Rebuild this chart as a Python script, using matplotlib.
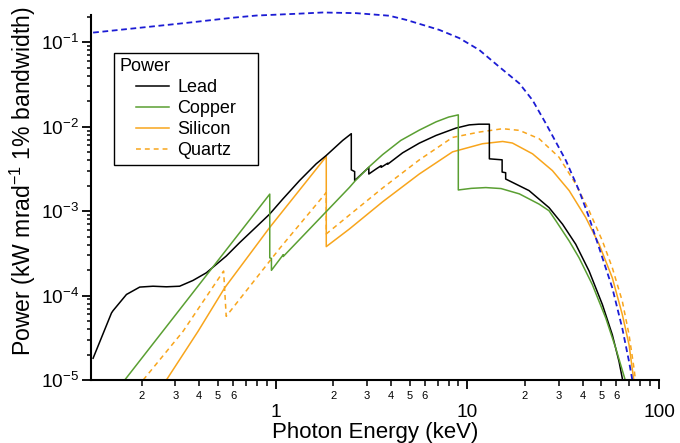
import numpy as np
import matplotlib
matplotlib.use("Agg")
import matplotlib.pyplot as plt
from matplotlib import ticker
from matplotlib.lines import Line2D
from matplotlib.legend_handler import HandlerLine2D

plt.rcParams['font.family'] = ['Liberation Sans', 'DejaVu Sans']
plt.rcParams['mathtext.fontset'] = 'custom'
plt.rcParams['mathtext.rm'] = 'Liberation Sans'
plt.rcParams['mathtext.default'] = 'regular'

# photon energy (keV) and power (kW mrad^-1 1% bw)
source_e = [0.1118, 0.27, 0.356, 0.597, 0.793, 1.334, 1.763, 2.63, 3.92, 4.8, 7.15, 9.08,
            11.55, 14.7, 18.7, 21.9, 25.7, 32.7, 38.3, 43.2, 48.7, 57.1, 64.4, 69.8, 72.6]
source_p = [0.130, 0.160, 0.171, 0.195, 0.207, 0.218, 0.225, 0.221, 0.206, 0.184, 0.140, 0.112,
            0.081, 0.051, 0.0325, 0.0206, 0.0109, 3.97e-3, 1.75e-3, 8.4e-4, 3.69e-4, 1.23e-4,
            4.07e-5, 1.65e-5, 1.0e-5]

lead_e = [0.1118, 0.1394, 0.1421, 0.1669, 0.1957, 0.2296, 0.2696, 0.316, 0.371, 0.4356, 0.5535,
          0.6494, 0.793, 0.931, 1.091, 1.334, 1.629, 1.837, 2.24, 2.484, 2.484, 2.586, 2.586,
          3.066, 3.066, 3.35, 3.554, 3.554, 3.851, 3.851, 4.6, 5.62, 6.87, 8.73, 10.24, 11.5,
          13.04, 13.04, 15.2, 15.2, 15.86, 15.86, 21.0, 26.7, 31.4, 36.8, 43.2, 50.7, 57.1,
          61.9, 64.9]
lead_p = [1.81e-5, 6.21e-5, 6.63e-5, 1.03e-4, 1.26e-4, 1.29e-4, 1.27e-4, 1.29e-4, 1.51e-4, 1.86e-4,
          2.94e-4, 4.23e-4, 6.5e-4, 9.2e-4, 1.39e-3, 2.3e-3, 3.63e-3, 4.55e-3, 6.87e-3, 8.26e-3,
          3.08e-3, 2.94e-3, 2.3e-3, 3.3e-3, 2.75e-3, 3.16e-3, 3.45e-3, 3.3e-3, 3.7e-3, 3.6e-3,
          4.9e-3, 6.38e-3, 7.87e-3, 9.62e-3, 1.05e-2, 1.07e-2, 1.07e-2, 4.16e-3, 4.05e-3, 2.9e-3,
          2.85e-3, 2.4e-3, 1.75e-3, 1.1e-3, 7.0e-4, 4.05e-4, 1.95e-4, 7.8e-5, 3.43e-5, 1.65e-5,
          9.5e-6]

copper_e = [0.1635, 0.933, 0.933, 0.952, 0.952, 1.097, 1.097, 2.43, 2.61, 3.1, 3.62, 4.5, 5.62,
            6.87, 8.0, 8.98, 8.98, 10.5, 12.5, 15.0, 18.7, 23.7, 26.7, 29.0, 34.0, 38.3, 44.9,
            52.8, 59.5, 67.1]
copper_p = [1e-5, 1.59e-3, 2.8e-4, 2.75e-4, 1.99e-4, 3.05e-4, 2.9e-4, 1.91e-3, 2.3e-3, 3.4e-3,
            4.67e-3, 6.87e-3, 9.1e-3, 1.14e-2, 1.3e-2, 1.38e-2, 1.78e-3, 1.86e-3, 1.9e-3, 1.85e-3,
            1.6e-3, 1.21e-3, 1.01e-3, 7.67e-4, 4.43e-4, 2.8e-4, 1.35e-4, 5.4e-5, 2.38e-5, 9.5e-6]

silicon_e = [0.2696, 0.394, 0.5424, 0.931, 1.839, 1.839, 2.43, 3.62, 5.62, 8.38, 12.0, 15.3, 17.2,
             21.9, 27.8, 34.0, 41.5, 48.7, 57.1, 64.4, 69.8, 74.1]
silicon_p = [1e-5, 3.76e-5, 1.23e-4, 6.38e-4, 4.43e-3, 3.8e-4, 6.15e-4, 1.29e-3, 2.75e-3, 5.03e-3,
             6.28e-3, 6.68e-3, 6.4e-3, 4.77e-3, 3.02e-3, 1.75e-3, 8.4e-4, 4.05e-4, 1.62e-4,
             5.94e-5, 2.61e-5, 9.5e-6]

quartz_e = [0.204, 0.329, 0.536, 0.553, 1.049, 1.839, 1.839, 2.43, 3.62, 5.62, 8.38, 11.55, 15.3,
            18.7, 23.7, 30.1, 36.8, 43.2, 50.7, 57.1, 64.4, 69.8, 74.1, 75.6]
quartz_p = [1e-5, 3.76e-5, 1.95e-4, 5.68e-5, 3.6e-4, 1.66e-3, 5.37e-4, 9.0e-4, 1.88e-3, 4.04e-3,
            7.46e-3, 8.63e-3, 9.46e-3, 9.04e-3, 7.2e-3, 4.35e-3, 2.09e-3, 1.01e-3, 4.43e-4,
            2.13e-4, 8.55e-5, 3.43e-5, 1.37e-5, 9.5e-6]

green = '#5a9f32'
orange = '#f8a51c'
blue = '#1c1cd4'
lw = 1.1

fig = plt.figure(figsize=(6.8, 4.43), dpi=100)
ax = fig.add_axes([0.1338, 0.1422, 0.8353, 0.8239])

h_qz, = ax.plot(quartz_e, quartz_p, color=orange, lw=lw, dashes=(3.2, 2.6), label='Quartz')
h_si, = ax.plot(silicon_e, silicon_p, color=orange, lw=lw, label='Silicon')
h_pb, = ax.plot(lead_e, lead_p, color='black', lw=lw, label='Lead')
h_cu, = ax.plot(copper_e, copper_p, color=green, lw=lw, label='Copper')
ax.plot(source_e, source_p, color=blue, lw=1.3, dashes=(3.2, 2.0), clip_on=False)

ax.set_xscale('log')
ax.set_yscale('log')
ax.set_xlim(0.109, 100)
ax.set_ylim(1e-5, 0.21)

ax.xaxis.set_major_locator(ticker.FixedLocator([1, 10, 100]))
ax.xaxis.set_major_formatter(ticker.FuncFormatter(lambda x, pos: '%g' % x))
ax.xaxis.set_minor_locator(ticker.LogLocator(base=10, subs=np.arange(2, 10), numticks=30))

def minor_label(x, pos):
    m = int(round(x / 10 ** np.floor(np.log10(x) + 1e-9)))
    return str(m) if 2 <= m <= 6 else ''

ax.xaxis.set_minor_formatter(ticker.FuncFormatter(minor_label))

ax.yaxis.set_major_locator(ticker.LogLocator(base=10, numticks=10))
ax.yaxis.set_major_formatter(ticker.FuncFormatter(lambda y, pos: r'$10^{%d}$' % round(np.log10(y))))
ax.yaxis.set_minor_locator(ticker.LogLocator(base=10, subs=np.arange(2, 10), numticks=30))
ax.yaxis.set_minor_formatter(ticker.NullFormatter())

ax.tick_params(which='major', direction='out', length=6.5, width=1.3, labelsize=13.7)
ax.tick_params(axis='x', which='major', pad=11)
ax.tick_params(axis='y', which='major', pad=2)
ax.tick_params(axis='x', which='minor', direction='out', length=4.5, width=1.1, labelsize=8, pad=3.5)
ax.tick_params(axis='y', which='minor', direction='out', length=3, width=1.1)

for s in ['top', 'right']:
    ax.spines[s].set_visible(False)
for s in ['left', 'bottom']:
    ax.spines[s].set_linewidth(1.5)

ax.set_xlabel('Photon Energy (keV)', fontsize=16)
ax.xaxis.label.set_verticalalignment('baseline')
ax.xaxis.set_label_coords(0.5, -0.159)
ax.set_ylabel('Power (kW mrad$^{-1}$ 1% bandwidth)', fontsize=16.6)
ax.yaxis.set_label_coords(-0.093, 0.545)

leg = ax.legend(handles=[h_pb, h_cu, h_si, h_qz], title='Power', alignment='left',
                loc='upper left', bbox_to_anchor=(0.0405, 0.5, 0.2535, 0.396), mode='expand',
                borderaxespad=0, fontsize=13, title_fontsize=13, fancybox=False,
                edgecolor='black', framealpha=1, handlelength=2.76, handletextpad=0.44,
                labelspacing=0.22, borderpad=0.3, handler_map={Line2D: HandlerLine2D(xpad=0.9)})
leg.get_frame().set_linewidth(1.0)

fig.savefig('out.png', dpi=100)
